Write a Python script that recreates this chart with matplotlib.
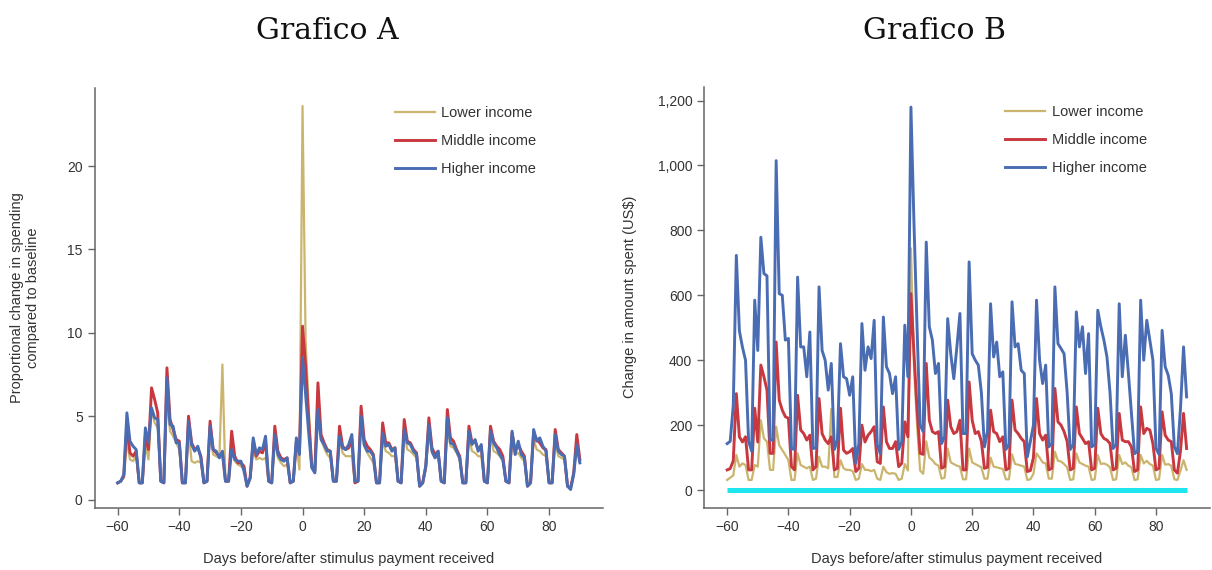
import numpy as np
import matplotlib
matplotlib.use('Agg')
import matplotlib.pyplot as plt
from matplotlib.ticker import FuncFormatter

# days relative to the stimulus payment
days = np.arange(-60, 91)

# Grafico A: proportional change in spending vs baseline
lower_a = [
    1.0, 1.1, 1.3, 3.5, 2.4, 2.3, 2.6, 1.0, 1.0, 3.4,
    2.4, 5.4, 4.6, 4.3, 1.1, 1.0, 6.2, 4.1, 3.8, 3.4,
    3.0, 1.0, 1.0, 4.2, 2.3, 2.2, 2.3, 2.2, 1.0, 1.1,
    4.0, 2.7, 2.6, 2.5, 8.1, 1.1, 1.1, 3.5, 2.3, 2.1,
    2.0, 1.9, 0.8, 1.2, 3.0, 2.4, 2.5, 2.4, 2.5, 1.1,
    1.0, 3.6, 2.5, 2.2, 2.0, 2.1, 1.0, 1.1, 3.4, 1.8,
    23.6, 9.5, 5.5, 2.2, 1.8, 6.6, 3.6, 3.1, 2.7, 2.5,
    1.1, 1.1, 3.6, 2.8, 2.6, 2.6, 2.6, 1.0, 1.1, 4.6,
    3.2, 2.8, 2.5, 2.2, 1.0, 1.0, 3.6, 2.9, 2.8, 2.6,
    2.6, 1.1, 1.0, 4.0, 3.0, 2.9, 2.7, 2.5, 0.8, 1.0,
    1.8, 4.0, 2.8, 2.5, 2.6, 1.1, 1.0, 4.4, 3.2, 3.1,
    2.8, 2.4, 1.0, 1.0, 3.8, 2.9, 2.8, 2.6, 2.6, 1.1,
    1.0, 3.8, 2.9, 2.8, 2.6, 2.3, 1.1, 1.0, 3.5, 2.7,
    2.8, 2.5, 2.3, 0.8, 1.0, 3.6, 3.0, 2.9, 2.7, 2.6,
    1.0, 1.0, 3.5, 2.6, 2.5, 2.4, 0.8, 0.7, 1.5, 3.2,
    2.2,
]
middle_a = [
    1.0, 1.1, 1.4, 4.5, 2.8, 2.6, 2.9, 1.0, 1.0, 3.8,
    3.0, 6.7, 6.0, 5.2, 1.1, 1.0, 7.9, 4.8, 4.2, 3.6,
    3.5, 1.0, 1.0, 5.0, 3.4, 3.0, 3.1, 2.6, 1.0, 1.1,
    4.7, 3.0, 2.8, 2.6, 2.8, 1.1, 1.1, 4.1, 2.6, 2.2,
    2.2, 2.0, 0.8, 1.3, 3.5, 2.6, 2.9, 2.8, 3.5, 1.1,
    1.0, 4.4, 2.9, 2.5, 2.4, 2.5, 1.0, 1.1, 3.5, 2.8,
    10.4, 8.0, 4.8, 2.0, 1.7, 7.0, 3.9, 3.4, 3.0, 2.9,
    1.1, 1.1, 4.4, 3.2, 3.0, 3.1, 3.6, 1.0, 1.1, 5.6,
    3.6, 3.2, 3.0, 2.7, 1.0, 1.0, 4.6, 3.4, 3.4, 3.0,
    3.1, 1.1, 1.0, 4.8, 3.5, 3.4, 3.0, 2.8, 0.8, 1.0,
    2.0, 4.9, 3.1, 2.7, 2.9, 1.1, 1.0, 5.4, 3.7, 3.5,
    3.0, 2.6, 1.0, 1.0, 4.4, 3.4, 3.5, 3.0, 3.2, 1.1,
    1.0, 4.4, 3.5, 3.2, 3.0, 2.6, 1.1, 1.0, 4.0, 2.9,
    3.3, 2.9, 2.6, 0.8, 1.0, 4.0, 3.6, 3.4, 3.1, 3.0,
    1.0, 1.0, 4.2, 3.0, 2.8, 2.6, 0.8, 0.7, 1.6, 3.9,
    2.4,
]
higher_a = [
    1.0, 1.1, 1.5, 5.2, 3.5, 3.2, 3.0, 1.0, 1.0, 4.3,
    3.4, 5.5, 4.9, 4.8, 1.1, 1.0, 7.3, 4.5, 4.4, 3.4,
    3.4, 1.0, 1.0, 4.7, 3.3, 2.9, 3.2, 2.5, 1.0, 1.1,
    4.4, 3.0, 2.9, 2.5, 2.9, 1.1, 1.1, 3.0, 2.4, 2.3,
    2.3, 1.7, 0.8, 1.3, 3.7, 2.7, 3.1, 3.0, 3.8, 1.1,
    1.0, 3.9, 2.7, 2.4, 2.3, 2.5, 1.0, 1.1, 3.7, 2.7,
    8.5, 6.3, 4.0, 1.9, 1.6, 5.4, 3.6, 3.3, 2.9, 2.9,
    1.1, 1.1, 3.8, 3.1, 3.0, 3.3, 3.9, 1.1, 1.1, 5.0,
    3.3, 2.9, 2.9, 2.6, 1.0, 1.0, 4.0, 3.2, 3.3, 2.9,
    3.1, 1.1, 1.0, 4.2, 3.4, 3.3, 2.9, 2.7, 0.8, 1.0,
    2.0, 4.5, 2.9, 2.5, 2.9, 1.1, 1.0, 4.9, 3.4, 3.3,
    2.9, 2.5, 1.0, 1.0, 4.1, 3.3, 3.6, 2.9, 3.3, 1.1,
    1.0, 4.1, 3.4, 3.1, 2.7, 2.4, 1.1, 1.0, 4.1, 2.7,
    3.5, 2.7, 2.5, 0.8, 1.0, 4.2, 3.5, 3.7, 3.2, 2.9,
    1.0, 1.0, 3.9, 2.9, 2.7, 2.6, 0.8, 0.6, 1.5, 3.3,
    2.2,
]

# Grafico B: change in amount spent (US$)
lower_b = [
    31, 38, 45, 108, 72, 82, 77, 31, 31, 77,
    72, 215, 159, 149, 62, 62, 195, 138, 123, 108,
    92, 31, 31, 113, 77, 72, 67, 72, 31, 35,
    103, 72, 72, 67, 250, 40, 40, 92, 67, 62,
    62, 58, 31, 35, 80, 62, 62, 58, 62, 35,
    31, 72, 55, 50, 52, 50, 31, 35, 80, 60,
    745, 380, 200, 60, 50, 150, 100, 92, 80, 75,
    35, 38, 128, 85, 80, 75, 72, 33, 33, 128,
    85, 80, 75, 70, 35, 35, 100, 72, 70, 67,
    65, 33, 33, 110, 80, 78, 75, 72, 31, 33,
    50, 113, 100, 85, 82, 35, 35, 118, 90, 88,
    80, 70, 31, 33, 113, 85, 80, 75, 72, 31,
    33, 108, 80, 82, 78, 70, 31, 33, 108, 80,
    85, 75, 70, 31, 33, 108, 82, 90, 80, 75,
    31, 33, 108, 78, 80, 75, 33, 31, 60, 92,
    62,
]
middle_b = [
    62, 66, 90, 297, 164, 148, 164, 62, 62, 252,
    148, 385, 349, 308, 113, 113, 456, 277, 246, 226,
    221, 72, 62, 292, 185, 174, 154, 169, 62, 72,
    282, 174, 154, 143, 164, 62, 67, 252, 123, 113,
    118, 128, 57, 67, 200, 148, 169, 180, 195, 87,
    82, 256, 149, 128, 128, 149, 72, 82, 210, 164,
    605, 420, 250, 113, 110, 390, 215, 180, 174, 180,
    67, 72, 277, 195, 174, 180, 215, 62, 62, 333,
    215, 174, 180, 150, 67, 70, 246, 180, 174, 149,
    164, 62, 67, 277, 185, 174, 159, 149, 57, 60,
    100, 282, 174, 154, 169, 62, 67, 313, 210, 200,
    180, 150, 62, 67, 256, 174, 159, 143, 149, 62,
    67, 252, 174, 159, 154, 143, 62, 67, 236, 154,
    149, 149, 133, 57, 62, 256, 174, 190, 185, 143,
    62, 67, 241, 169, 154, 149, 62, 52, 120, 236,
    128,
]
higher_b = [
    143, 150, 260, 723, 490, 440, 400, 150, 120, 585,
    430, 779, 667, 660, 154, 154, 1015, 605, 600, 462,
    467, 128, 125, 656, 441, 441, 349, 487, 128, 130,
    626, 430, 400, 308, 390, 125, 154, 451, 349, 343,
    292, 349, 82, 143, 513, 369, 441, 405, 523, 140,
    112, 533, 380, 359, 297, 349, 125, 149, 508, 349,
    1180, 820, 500, 200, 180, 764, 503, 462, 359, 390,
    143, 164, 528, 420, 343, 441, 544, 174, 174, 703,
    420, 400, 385, 300, 133, 180, 574, 410, 456, 349,
    364, 125, 140, 580, 441, 451, 369, 359, 102, 150,
    200, 585, 400, 328, 385, 133, 143, 626, 451, 436,
    420, 300, 125, 140, 549, 441, 503, 359, 482, 133,
    140, 554, 503, 462, 410, 300, 128, 140, 574, 349,
    477, 359, 236, 112, 120, 585, 400, 523, 462, 400,
    128, 110, 492, 380, 354, 297, 133, 112, 250, 441,
    287,
]

labels = ['Lower income', 'Middle income', 'Higher income']
colors = ['#cbb56e', '#c8383f', '#4a6cb2']
widths = [1.6, 2.1, 2.1]
text_color = '#333333'
spine_color = '#666666'

plt.rcParams['font.family'] = ['Liberation Sans', 'DejaVu Sans']

fig = plt.figure(figsize=(12.12, 5.70), dpi=100)
ax_a = fig.add_axes([0.078, 0.109, 0.4195, 0.737])
ax_b = fig.add_axes([0.581, 0.109, 0.417, 0.739])


def style_axis(ax):
    for side in ['top', 'right']:
        ax.spines[side].set_visible(False)
    for side in ['left', 'bottom']:
        ax.spines[side].set_color(spine_color)
        ax.spines[side].set_linewidth(1.1)
    ax.tick_params(colors=spine_color, labelcolor=text_color, labelsize=10,
                   length=5, width=1)
    ax.set_xticks(range(-60, 81, 20))
    ax.set_xlim(-67.5, 97.5)
    ax.set_xlabel('Days before/after stimulus payment received',
                  fontsize=10.5, color=text_color, labelpad=13)


def add_legend(ax, x):
    ax.legend(loc='upper left', bbox_to_anchor=(x, 0.956), frameon=False,
              fontsize=10.5, handlelength=2.75, handletextpad=0.45,
              labelspacing=0.95, borderpad=0, borderaxespad=0,
              labelcolor=text_color)


# Grafico A
for series, lab, col, lw in zip([lower_a, middle_a, higher_a], labels, colors, widths):
    ax_a.plot(days, series, color=col, lw=lw, label=lab, solid_joinstyle='round')
style_axis(ax_a)
ax_a.set_ylim(-0.5, 24.7)
ax_a.set_yticks([0, 5, 10, 15, 20])
ax_a.set_ylabel('Proportional change in spending\ncompared to baseline',
                fontsize=10.5, color=text_color)
ax_a.yaxis.set_label_coords(-0.107, 0.5)
add_legend(ax_a, 0.59)

# Grafico B
ax_b.hlines(0, days[0], days[-1], color='#1ee6ef', lw=3.6)
for series, lab, col, lw in zip([lower_b, middle_b, higher_b], labels, colors, widths):
    ax_b.plot(days, series, color=col, lw=lw, label=lab, solid_joinstyle='round')
style_axis(ax_b)
ax_b.set_ylim(-55, 1243)
ax_b.set_yticks(range(0, 1201, 200))
ax_b.yaxis.set_major_formatter(FuncFormatter(lambda v, p: f'{v:,.0f}'))
ax_b.set_ylabel('Change in amount spent (US$)', fontsize=10.5, color=text_color)
ax_b.yaxis.set_label_coords(-0.132, 0.5)
add_legend(ax_b, 0.595)

fig.text(0.27, 0.945, 'Grafico A', ha='center', va='center',
         fontsize=21.5, family='DejaVu Serif', color='#111111')
fig.text(0.771, 0.945, 'Grafico B', ha='center', va='center',
         fontsize=21.5, family='DejaVu Serif', color='#111111')

fig.savefig('out.png', dpi=100)
